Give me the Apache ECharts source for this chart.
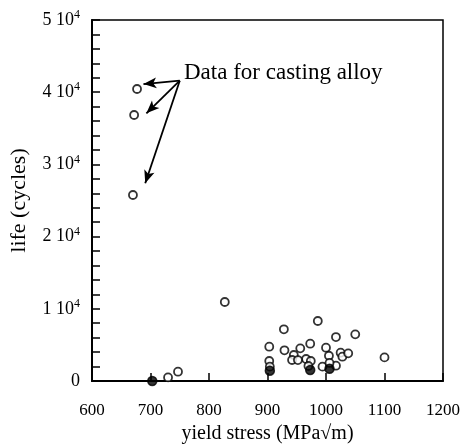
<!DOCTYPE html>
<html>
<head>
<meta charset="utf-8">
<script src="https://cdn.jsdelivr.net/npm/echarts@6/dist/echarts.min.js"></script>
<style>
  html, body { margin: 0; padding: 0; background: #fff; }
  #chart { width: 466px; height: 444px; }
</style>
</head>
<body>
<div id="chart"></div>
<script>
// yield stress (MPa√m) / life (cycles) - open circles
var openPoints = [
	[677, 40440], [672, 36840], [670, 25760],
	[827, 10940], [730, 500], [747, 1290],
	[986, 8310], [928, 7160], [1050, 6460], [1017, 6090],
	[903, 4750], [973, 5170], [929, 4250], [956, 4520], [1000, 4610],
	[945, 3600], [942, 2910], [966, 3050], [974, 2770], [1005, 3500],
	[1025, 3920], [1028, 3370], [1038, 3830], [1100, 3270],
	[903, 2770], [904, 1990], [970, 2080], [994, 1990], [1017, 2120],
	[1006, 2500], [952, 2900]
];
// filled (overlapping) points
var filledPoints = [
	[703, 0], [904, 1430], [973, 1520], [1006, 1700]
];
var yTicks = [0, 10000, 20000, 30000, 40000, 50000];
var noteText = 'Data for casting alloy';
// arrow from the note to the casting alloy points
var arrowStart = [750, 41590];
var arrowEnds = [[688, 41130], [693, 37080], [691, 27380]];

var myChart = echarts.init(document.getElementById('chart'));

var serif = 'Liberation Serif';

var option = {
	backgroundColor: '#fff',
	animation: false,
	grid: {
		left: 92, right: 23, top: 20, bottom: 63,
		outerBoundsMode: 'none',
		containLabel: false,
		show: true,
		borderColor: '#000',
		borderWidth: 1.5
	},
	xAxis: {
		type: 'value',
		min: 600, max: 1200, interval: 100,
		name: 'yield stress (MPa√m)',
		nameLocation: 'middle',
		nameGap: 42,
		nameTextStyle: { fontFamily: serif, fontSize: 20, color: '#000' },
		axisLine: { lineStyle: { color: '#000', width: 2 } },
		axisTick: { inside: true, length: 8, lineStyle: { color: '#000', width: 1.5 } },
		axisLabel: {
			fontFamily: serif, fontSize: 17, color: '#000', margin: 21,
			formatter: function (v) { return String(v); }
		},
		splitLine: { show: false }
	},
	yAxis: {
		type: 'value',
		min: 0, max: 50000, interval: 10000,
		name: 'life (cycles)',
		nameLocation: 'middle',
		nameGap: 62,
		nameTextStyle: { fontFamily: serif, fontSize: 22, color: '#000' },
		axisLine: { lineStyle: { color: '#000', width: 2 } },
		axisTick: { inside: true, length: 8, lineStyle: { color: '#000', width: 1.5 } },
		minorTick: { show: true, splitNumber: 5, length: 8, lineStyle: { color: '#000', width: 1.5 } },
		axisLabel: {
			margin: 12,
			formatter: function (v) {
				if (v === 0) return '{a|0}';
				return '{a|' + (v / 10000) + ' 10}{s|4}';
			},
			rich: {
				a: { fontFamily: serif, fontSize: 18, color: '#000', lineHeight: 22 },
				s: { fontFamily: serif, fontSize: 12, color: '#000', verticalAlign: 'top', lineHeight: 22 }
			}
		},
		splitLine: { show: false }
	},
	graphic: [
		{
			type: 'text',
			left: 184, top: 61,
			style: { text: noteText, font: '23px "Liberation Serif"', fill: '#000' }
		}
	],
	series: [
		{
			type: 'scatter',
			data: openPoints,
			symbol: 'circle',
			symbolSize: 8,
			clip: false,
			itemStyle: { color: '#fff', borderColor: '#000', borderWidth: 1.8 },
			markLine: {
				silent: true,
				symbol: ['none', 'arrow'],
				symbolSize: [8, 13],
				label: { show: false },
				lineStyle: { color: '#000', width: 1.8, type: 'solid' },
				data: arrowEnds.map(function (e) {
					return [{ coord: arrowStart }, { coord: e }];
				})
			}
		},
		{
			type: 'scatter',
			data: filledPoints,
			symbol: 'circle',
			symbolSize: 9,
			clip: false,
			itemStyle: { color: '#000', borderColor: '#000', borderWidth: 1.5 }
		}
	]
};

myChart.setOption(option);
</script>
</body>
</html>
